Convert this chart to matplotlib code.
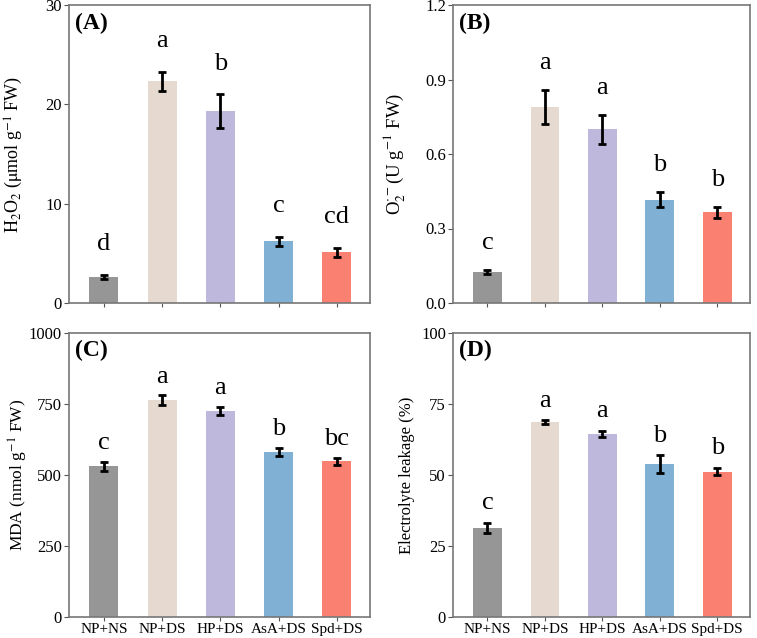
import matplotlib
matplotlib.use("Agg")
import matplotlib.pyplot as plt
import numpy as np

plt.rcParams['font.family'] = 'Liberation Serif'
plt.rcParams['mathtext.fontset'] = 'stix'

# data
groups = ["NP+NS", "NP+DS", "HP+DS", "AsA+DS", "Spd+DS"]
colors = ["#969696", "#e6d9d0", "#bdb8dc", "#80b0d3", "#fa8072"]

h2o2 = [2.6, 22.3, 19.3, 6.2, 5.1]
h2o2_err = [0.2, 1.0, 1.7, 0.45, 0.45]
h2o2_let = ["d", "a", "b", "c", "cd"]

o2 = [0.126, 0.789, 0.700, 0.415, 0.366]
o2_err = [0.008, 0.07, 0.058, 0.03, 0.022]
o2_let = ["c", "a", "a", "b", "b"]

mda = [530, 764, 724, 581, 548]
mda_err = [17, 16, 14, 14, 13]
mda_let = ["c", "a", "a", "b", "bc"]

el = [31.4, 68.6, 64.5, 53.8, 51.2]
el_err = [1.7, 0.7, 1.1, 3.2, 1.3]
el_let = ["c", "a", "a", "b", "b"]

W, H = 757, 638
fig = plt.figure(figsize=(W / 100, H / 100), dpi=100)

# panel boxes in pixels: left, top, right, bottom, ylabel centre x
boxes = [(69, 5, 370, 303, 14), (453, 5, 750, 303, 395),
         (69, 333, 370, 617, 18), (453, 333, 750, 617, 407)]
panels = [
    (h2o2, h2o2_err, h2o2_let, 30, [0, 10, 20, 30], r"H$_2$O$_2$ ($\mathrm{\mu}$mol g$^{-1}$ FW)", 13, "(A)", 2.0),
    (o2, o2_err, o2_let, 1.2, [0.0, 0.3, 0.6, 0.9, 1.2], r"O$_2^{\cdot-}$(U g$^{-1}$ FW)", 13.5, "(B)", 0.065),
    (mda, mda_err, mda_let, 1000, [0, 250, 500, 750, 1000], r"MDA (nmol g$^{-1}$ FW)", 12.5, "(C)", 28),
    (el, el_err, el_let, 100, [0, 25, 50, 75, 100], "Electrolyte leakage (%)", 12, "(D)", 3.0),
]

x = np.arange(len(groups))
for i, (vals, errs, lets, ymax, ticks, ylab, ysize, tag, pad) in enumerate(panels):
    l, t, r, b, lx = boxes[i]
    ax = fig.add_axes([l / W, (H - b) / H, (r - l) / W, (b - t) / H])
    ax.bar(x, vals, width=0.5, color=colors, zorder=2)
    ax.errorbar(x, vals, yerr=errs, fmt='none', ecolor='black', elinewidth=2,
                capsize=3, capthick=2, zorder=3)
    for xi, v, e, s in zip(x, vals, errs, lets):
        ax.text(xi, v + e + pad, s, ha='center', va='bottom', fontsize=19)
    ax.set_xlim(-0.6, 4.57)
    ax.set_ylim(0, ymax)
    ax.set_yticks(ticks)
    if ymax < 2:
        ax.set_yticklabels(["%.1f" % v for v in ticks])
    ax.set_xticks(x)
    if i >= 2:
        ax.set_xticklabels(groups, fontsize=11)
    else:
        ax.set_xticklabels([])
    ax.tick_params(axis='y', labelsize=12, color='#555555', length=3.5, pad=1.5)
    ax.tick_params(axis='x', color='#555555', length=3, pad=1)
    for sp in ax.spines.values():
        sp.set_color('#777777')
        sp.set_linewidth(1.2)
    ax.set_ylabel(ylab, fontsize=ysize)
    ax.yaxis.set_label_coords((lx - l) / (r - l), 0.5)
    ax.yaxis.label.set_verticalalignment('center')
    ax.text(0.02, 0.975, tag, transform=ax.transAxes, ha='left', va='top',
            fontsize=17, fontweight='bold')

fig.savefig("out.png", dpi=100)
